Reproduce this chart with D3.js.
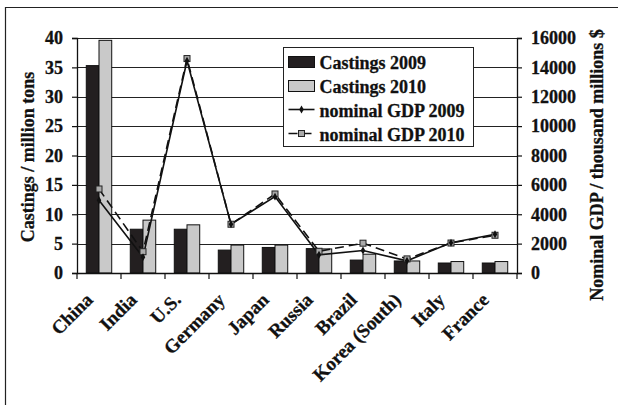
<!DOCTYPE html>
<html>
<head>
<meta charset="utf-8">
<script src="https://cdn.jsdelivr.net/npm/d3@7"></script>
<style>
  body { margin: 0; background: #fff; }
  svg text { font-family: "Liberation Serif", "Times New Roman", serif; font-weight: bold; fill: #111; stroke: #111; stroke-width: 0.3px; }
</style>
</head>
<body>
<svg id="chart" width="618" height="405"></svg>
<script>
// data
const countries  = ["China", "India", "U.S.", "Germany", "Japan", "Russia", "Brazil", "Korea (South)", "Italy", "France"];
const cast2009   = [35.3, 7.45, 7.45, 3.9, 4.35, 4.15, 2.2, 2.05, 1.7, 1.7];
const cast2010   = [39.6, 9.0, 8.2, 4.75, 4.75, 4.1, 3.2, 2.05, 1.95, 1.95];
const gdp2009    = [4950, 1080, 14450, 3320, 5200, 1240, 1530, 830, 2060, 2640];
const gdp2010    = [5720, 1450, 14600, 3320, 5380, 1480, 2030, 960, 2040, 2570];
const leftTicks  = [0, 5, 10, 15, 20, 25, 30, 35, 40];
const rightTicks = [0, 2000, 4000, 6000, 8000, 10000, 12000, 14000, 16000];

const svg = d3.select("#chart");

// outer frame (left + top only, the rest is cut off)
svg.append("path")
  .attr("d", "M5.5,405 V7.5 H618")
  .attr("fill", "none").attr("stroke", "#222").attr("stroke-width", 1.2);

// 1) scales
const x0 = 77, x1 = 517, yTop = 38, yBot = 273;
const x = d3.scaleBand().domain(countries).range([x0, x1]);
const xi = d3.scaleBand().domain(["a", "b"]).range([0, x.bandwidth()]).paddingOuter(0.73).paddingInner(0);
const yL = d3.scaleLinear().domain([0, 40]).range([yBot, yTop]);
const yR = d3.scaleLinear().domain([0, 16000]).range([yBot, yTop]);

// 2) gridlines
svg.append("g").selectAll("line")
  .data(leftTicks.filter(d => d > 0))
  .join("line")
    .attr("x1", x0).attr("x2", x1)
    .attr("y1", d => Math.round(yL(d)) + 0.5).attr("y2", d => Math.round(yL(d)) + 0.5)
    .attr("stroke", "#222").attr("stroke-width", 1);

// 3) bars
const groups = svg.append("g").selectAll("g")
  .data(countries)
  .join("g")
    .attr("transform", d => `translate(${x(d)},0)`);

groups.append("rect")
  .attr("x", (d, i) => xi("a"))
  .attr("width", xi.bandwidth())
  .attr("y", (d, i) => yL(cast2009[i]))
  .attr("height", (d, i) => yBot - yL(cast2009[i]))
  .attr("fill", "#231f20").attr("stroke", "#111").attr("stroke-width", 1);

groups.append("rect")
  .attr("x", (d, i) => xi("b"))
  .attr("width", xi.bandwidth())
  .attr("y", (d, i) => yL(cast2010[i]))
  .attr("height", (d, i) => yBot - yL(cast2010[i]))
  .attr("fill", "#c9c9c9").attr("stroke", "#111").attr("stroke-width", 1);

// 4) axes
const leftAxis = svg.append("g")
  .attr("transform", `translate(${x0},0)`)
  .call(d3.axisLeft(yL).tickValues(leftTicks).tickSize(5).tickPadding(9));
const rightAxis = svg.append("g")
  .attr("transform", `translate(${x1},0)`)
  .call(d3.axisRight(yR).tickValues(rightTicks).tickSize(5).tickPadding(9).tickFormat(d3.format("d")));
const bottomAxis = svg.append("g")
  .attr("transform", `translate(0,${yBot})`)
  .call(d3.axisBottom(x).tickSize(0).tickFormat(""));

[leftAxis, rightAxis, bottomAxis].forEach(a => {
  a.select(".domain").attr("stroke", "#111").attr("stroke-width", 1.3);
  a.selectAll(".tick line").attr("stroke", "#111").attr("stroke-width", 1.2);
  a.selectAll("text").style("font-size", "18px").attr("fill", "#111");
});

// category boundary ticks
svg.append("g").selectAll("line")
  .data(countries.concat(["end"]))
  .join("line")
    .attr("x1", (d, i) => x0 + i * x.step()).attr("x2", (d, i) => x0 + i * x.step())
    .attr("y1", yBot).attr("y2", yBot + 6)
    .attr("stroke", "#111").attr("stroke-width", 1.2);

// rotated category labels
svg.append("g").selectAll("text")
  .data(countries)
  .join("text")
    .attr("transform", d => `translate(${x(d) + x.bandwidth() / 2 - 5},301) rotate(-45)`)
    .attr("text-anchor", "end")
    .style("font-size", "19px")
    .text(d => d);

// 5) GDP lines
const line = data => d3.line()
  .x((d, i) => x(countries[i]) + x.bandwidth() / 2)
  .y(d => yR(d))(data);

svg.append("path")
  .attr("d", line(gdp2010))
  .attr("fill", "none").attr("stroke", "#111").attr("stroke-width", 1.6)
  .attr("stroke-dasharray", "9,5");
svg.append("path")
  .attr("d", line(gdp2009))
  .attr("fill", "none").attr("stroke", "#111").attr("stroke-width", 1.6);

svg.append("g").selectAll("rect")
  .data(gdp2010)
  .join("rect")
    .attr("x", (d, i) => x(countries[i]) + x.bandwidth() / 2 - 3)
    .attr("y", d => yR(d) - 3)
    .attr("width", 6).attr("height", 6)
    .attr("fill", "#aaa").attr("stroke", "#222").attr("stroke-width", 1);
svg.append("g").selectAll("path")
  .data(gdp2009)
  .join("path")
    .attr("transform", (d, i) => `translate(${x(countries[i]) + x.bandwidth() / 2},${yR(d)})`)
    .attr("d", d3.symbol(d3.symbolDiamond, 18))
    .attr("fill", "#111");

// 6) axis titles
svg.append("text")
  .attr("transform", "translate(34,157) rotate(-90)")
  .attr("text-anchor", "middle")
  .style("font-size", "18px")
  .text("Castings / million tons");
svg.append("text")
  .attr("transform", "translate(603,165) rotate(-90)")
  .attr("text-anchor", "middle")
  .style("font-size", "18px")
  .text("Nominal GDP / thousand millions $");

// 7) legend
const legend = svg.append("g").attr("transform", "translate(283.5,47.5)");
legend.append("rect")
  .attr("width", 190).attr("height", 99)
  .attr("fill", "#fff").attr("stroke", "#222").attr("stroke-width", 1);

const legendItems = ["Castings 2009", "Castings 2010", "nominal GDP 2009", "nominal GDP 2010"];
const rows = legend.selectAll("g.item")
  .data(legendItems)
  .join("g")
    .attr("class", "item")
    .attr("transform", (d, i) => `translate(0,${14 + i * 24})`);

rows.append("text")
  .attr("x", 36).attr("y", 7)
  .style("font-size", "18px")
  .text(d => d);

rows.filter((d, i) => i < 2).append("rect")
  .attr("x", 5).attr("y", -5).attr("width", 26).attr("height", 11)
  .attr("fill", (d, i) => i === 0 ? "#231f20" : "#c9c9c9")
  .attr("stroke", "#111").attr("stroke-width", 1);

rows.filter((d, i) => i >= 2).append("line")
  .attr("x1", 5).attr("x2", 31).attr("y1", 0).attr("y2", 0)
  .attr("stroke", "#111").attr("stroke-width", 1.6)
  .attr("stroke-dasharray", (d, i) => i === 1 ? "9,5" : null);

rows.filter((d, i) => i === 2).append("path")
  .attr("transform", "translate(18,0)")
  .attr("d", d3.symbol(d3.symbolDiamond, 18))
  .attr("fill", "#111");
rows.filter((d, i) => i === 3).append("rect")
  .attr("x", 15).attr("y", -3).attr("width", 6).attr("height", 6)
  .attr("fill", "#aaa").attr("stroke", "#222").attr("stroke-width", 1);
</script>
</body>
</html>
